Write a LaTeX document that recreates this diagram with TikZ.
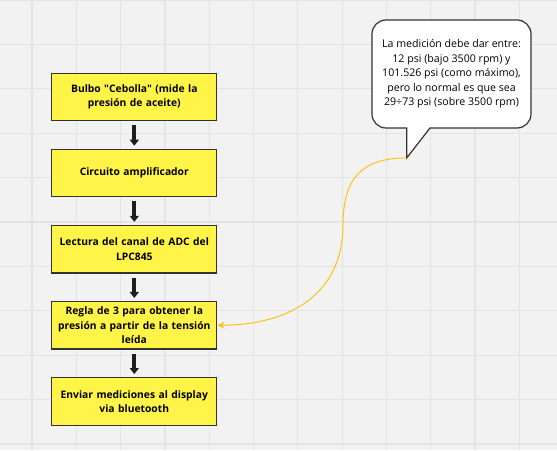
\documentclass[tikz,border=0pt]{standalone}
\usepackage{fontspec}
\setmainfont{Open Sans}[Ligatures=TeXOff]
\usepackage{tikz}
\usetikzlibrary{arrows.meta,positioning,calc}
\definecolor{canvas}{HTML}{F2F2F2}
\definecolor{gridgray}{HTML}{E4E4E4}
\definecolor{boxyellow}{HTML}{FFF447}
\definecolor{boxline}{HTML}{333333}
\definecolor{curvegold}{HTML}{F9C515}
\definecolor{darkarrow}{HTML}{1E1E1E}
\tikzset{
  paso/.style={draw=boxline, line width=1.2pt, fill=boxyellow, minimum width=165pt, minimum height=47.5pt,
    align=center, text width=158pt, inner sep=0pt, font=\fontsize{10.3}{14.5}\selectfont\bfseries},
  flecha/.style={-{Triangle[width=9pt,length=6pt]}, line width=4pt, draw=darkarrow, shorten <=4pt, shorten >=3pt},
  nota/.style={align=center, inner sep=0pt, font=\fontsize{10.6}{14.4}\selectfont},
  globo/.style={draw=boxline, line width=1.2pt, fill=white},
  enlace/.style={-{Stealth[length=7pt,width=7pt]}, line width=1pt, draw=curvegold},
  rejilla/.style={draw=gridgray, line width=1.2pt},
}
\begin{document}
\begin{tikzpicture}[x=1pt,y=1pt]
    \fill[canvas] (0,0) rectangle (557,450);
    \useasboundingbox (0,0) rectangle (557,450);
    % grid
    \foreach \i in {0,...,11}{
      \draw[rejilla] (32+44.3*\i,0) -- (32+44.3*\i,450);
    }
    \foreach \j in {0,...,10}{
      \draw[rejilla] (0,450-44.4*\j) -- (557,450-44.4*\j);
    }
    % flow
    \node[paso] (bulbo) at (134.3,353) {Bulbo "Cebolla" (mide la\\presión de aceite)};
    \node[paso, below=27.4pt of bulbo] (ampli) {Circuito amplificador};
    \node[paso, below=27.4pt of ampli] (adc) {Lectura del canal de ADC del\\LPC845};
    \node[paso, below=27.4pt of adc] (regla) {Regla de 3 para obtener la\\presión a partir de la tensión\\leída};
    \node[paso, below=27.4pt of regla] (envio) {Enviar mediciones al display\\via bluetooth};
    \draw[flecha] (bulbo) -- (ampli);
    \draw[flecha] (ampli) -- (adc);
    \draw[flecha] (adc) -- (regla);
    \draw[flecha] (regla) -- (envio);
    % callout (159 x 108, corners r=14)
    \coordinate (sw) at (372,322);
    \coordinate (ne) at (531,430);
    \coordinate (punta) at ($(sw)+(34.7,-30)$);
    \draw[globo]
      ($(sw)+(34.7,0)$) -- ($(sw)+(14,0)$)
      arc[start angle=270, end angle=180, radius=14] -- ($(sw|-ne)+(0,-14)$)
      arc[start angle=180, end angle=90, radius=14] -- ($(ne)+(-14,0)$)
      arc[start angle=90, end angle=0, radius=14] -- ($(ne|-sw)+(0,14)$)
      arc[start angle=0, end angle=-90, radius=14] -- ($(sw)+(58,0)$)
      -- (punta) -- cycle;
    \node[nota] (rango) at ($(sw)!0.5!(ne)$) {La medición debe dar entre:\\12 psi (bajo 3500 rpm) y\\101.526 psi (como máximo),\\pero lo normal es que sea\\29÷73 psi (sobre 3500 rpm)};
    \draw[enlace] (punta) .. controls (365,292) and (343,275) .. (343,225)
      .. controls (343,160) and (295,125.2) .. (regla.east);
\end{tikzpicture}
\end{document}
